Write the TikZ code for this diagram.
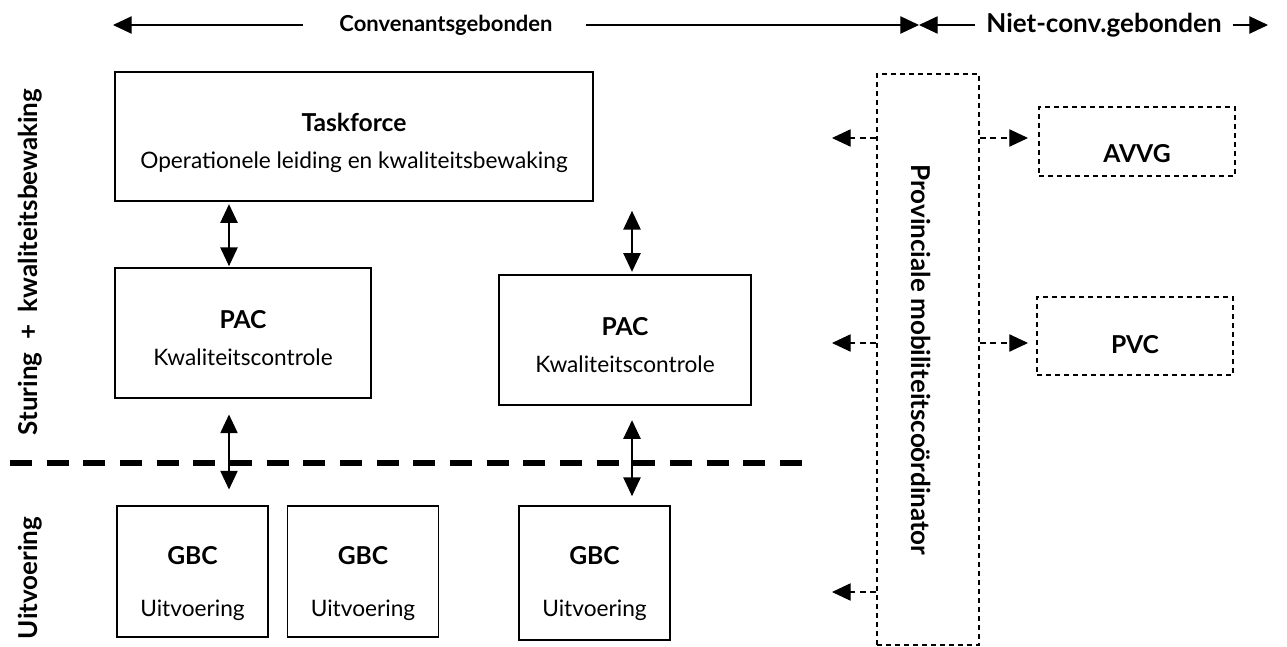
\documentclass[tikz,border=0pt]{standalone}
\usepackage{fontspec}
\setmainfont{Lato}
\usetikzlibrary{arrows.meta}
\tikzset{
  box/.style={draw, line width=0.8pt, inner sep=0pt},
  dbox/.style={box, dash pattern=on 3.75pt off 3pt},
  txt/.style={align=center, inner sep=0pt},
  lbl/.style={font=\fontsize{19.5}{22}\selectfont\bfseries, inner sep=0pt},
  dbl/.style={{Triangle[length=14pt,width=13pt]}-{Triangle[length=14pt,width=13pt]}, line width=0.9pt},
  darr/.style={-{Triangle[length=14pt,width=13pt]}, line width=0.8pt, dash pattern=on 4.5pt off 3.5pt},
  harr/.style={-{Triangle[length=14pt,width=13pt]}, line width=0.9pt},
  split/.style={line width=4.5pt, dash pattern=on 16.5pt off 11pt}
}
\newcommand{\bt}{\fontsize{17}{20}\selectfont}
\newcommand{\bb}{\fontsize{18.5}{20}\selectfont\bfseries}
\begin{document}
\begin{tikzpicture}[x=0.75pt,y=0.75pt,yscale=-1,xscale=1]
\path[use as bounding box] (0,0) rectangle (1287,646);

% top labels
\node[lbl, font=\fontsize{16.5}{20}\selectfont\bfseries] (conv) at (446,25) {Convenantsgebonden};
\node[lbl] (niet) at (1104,25) {Niet-conv.gebonden};
\coordinate (cl) at (113,25);
\coordinate (cr) at (919,25);
\coordinate (nr) at (1268,25);
\draw[harr] ([xshift=-27pt]conv.west) -- (cl);
\draw[harr] ([xshift=25pt]conv.east) -- (cr);
\draw[harr] ([xshift=-8pt]niet.west) -- (cr);
\draw[harr] ([xshift=8pt]niet.east) -- (nr);

% boxes
\node[box, minimum width=358.5pt, minimum height=96.75pt] (tf) at (354,136.5) {};
\node[txt] (tft) at ([yshift=4.5pt]tf.center)
  {\bb Taskforce\\[14pt]\bt Operationele leiding en kwaliteitsbewaking};
\node[box, minimum width=192pt, minimum height=97.5pt] (pac1) at (243,333) {};
\node[txt] (pac1t) at ([yshift=3.75pt]pac1.center) {\bb PAC\\[14pt]\bt Kwaliteitscontrole};
\node[box, minimum width=189pt, minimum height=97.5pt] (pac2) at (625,340) {};
\node[txt] (pac2t) at ([yshift=3.75pt]pac2.center) {\bb PAC\\[14pt]\bt Kwaliteitscontrole};
\node[box, minimum width=113.25pt, minimum height=98.25pt] (gbc1) at (192.5,571.5) {};
\node[txt] (gbc1t) at ([yshift=9pt]gbc1.center) {\bb GBC\\[25pt]\bt Uitvoering};
\node[box, minimum width=113.25pt, minimum height=98.25pt] (gbc2) at (363,571.5) {};
\node[txt] (gbc2t) at ([yshift=9pt]gbc2.center) {\bb GBC\\[25pt]\bt Uitvoering};
\node[box, minimum width=113.25pt, minimum height=100.5pt] (gbc3) at (594.5,573) {};
\node[txt] (gbc3t) at ([yshift=8pt]gbc3.center) {\bb GBC\\[25pt]\bt Uitvoering};

% dashed boxes
\node[dbox, minimum width=76.5pt, minimum height=428.25pt] (prov) at (928,359.5) {};
\node[lbl, rotate=-90] (provt) at (921,360) {Provinciale mobiliteitscoördinator};
\node[dbox, minimum width=147pt, minimum height=51.75pt] (avvg) at (1137,141.5) {};
\node[txt] (avvgt) at ([yshift=9pt]avvg.center) {\bb AVVG};
\node[dbox, minimum width=147pt, minimum height=58.5pt] (pvc) at (1135,336) {};
\node[txt] (pvct) at ([yshift=6.5pt]pvc.center) {\bb PVC};

% side labels
\node[lbl, rotate=90] (stur) at (30,262) {Sturing \ + \ kwaliteitsbewaking};
\node[lbl, rotate=90] (uitv) at (30,578) {Uitvoering};

% split line
\coordinate (s1) at (10,463);
\coordinate (s2) at (815,463);
\draw[split] (s1) -- (s2);

% vertical arrows
\coordinate (a1) at (229,0);
\coordinate (a2) at (632,0);
\draw[dbl, shorten <=2pt, shorten >=1pt] (tf.south -| a1) -- (pac1.north -| a1);
\draw[dbl, shorten <=12pt, shorten >=12pt] (pac1.south -| a1) -- (gbc1.north -| a1);
\draw[dbl, shorten <=7pt, shorten >=2pt] (tf.south -| a2) -- (pac2.north -| a2);
\draw[dbl, shorten <=11pt, shorten >=7pt] (pac2.south -| a2) -- (gbc3.north -| a2);

% dashed arrows
\coordinate (l1) at (832,138);
\coordinate (l2) at (832,343);
\coordinate (l3) at (832,592);
\draw[darr] (prov.west |- l1) -- (l1);
\draw[darr] (prov.west |- l2) -- (l2);
\draw[darr] (prov.west |- l3) -- (l3);
\coordinate (r1) at (1028,138);
\coordinate (r2) at (1028,343);
\draw[darr] (prov.east |- r1) -- (r1);
\draw[darr] (prov.east |- r2) -- (r2);

\end{tikzpicture}
\end{document}
